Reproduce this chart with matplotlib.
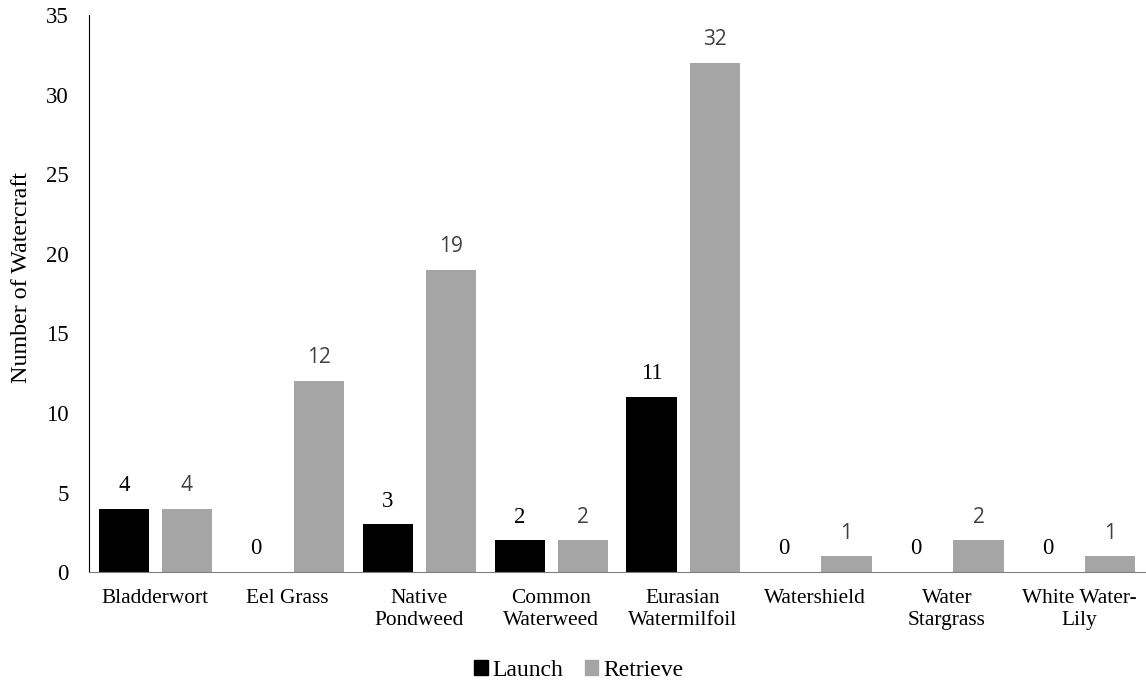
import numpy as np
import matplotlib.pyplot as plt
from matplotlib.patches import Patch

# Dados
categorias = ["Bladderwort", "Eel Grass", "Native\nPondweed", "Common\nWaterweed",
              "Eurasian\nWatermilfoil", "Watershield", "Water\nStargrass", "White Water-\nLily"]
launch = [4, 0, 3, 2, 11, 0, 0, 0]
retrieve = [4, 12, 19, 2, 32, 1, 2, 1]

SERIF = "Liberation Serif"
SANS = "Open Sans"

fig = plt.figure(figsize=(11.46, 6.82), dpi=100)
ax = fig.add_axes([0.078, 0.161, 0.921, 0.817])

x = np.arange(len(categorias))
largura = 0.38
desloc = 0.239

ax.bar(x - desloc, launch, width=largura, color="black")
ax.bar(x + desloc, retrieve, width=largura, color="#a5a5a5")

# rótulos de dados
for xi, v in zip(x, launch):
    ax.text(xi - desloc, v + 0.8, str(v), ha="center", va="bottom",
            fontsize=16.5, family=SERIF, color="black")
for xi, v in zip(x, retrieve):
    ax.text(xi + desloc, v + 0.8, str(v), ha="center", va="bottom",
            fontsize=15, family=SANS, color="#404040")

ax.set_xlim(-0.5, len(categorias) - 0.5)
ax.set_ylim(0, 35)
ax.set_yticks(range(0, 36, 5))
ax.set_xticks(x)
ax.set_xticklabels(categorias, family=SERIF, fontsize=15.4, linespacing=1.2)
for lbl in ax.get_yticklabels():
    lbl.set_family(SERIF)
    lbl.set_fontsize(16.5)
ax.tick_params(axis="x", length=0, pad=12)
ax.tick_params(axis="y", length=0, pad=15)

ax.spines["top"].set_visible(False)
ax.spines["right"].set_visible(False)
ax.spines["left"].set_color("black")
ax.spines["bottom"].set_color("#7f7f7f")

ax.set_ylabel("Number of Watercraft", family=SERIF, fontsize=17.3)
ax.yaxis.set_label_coords(-0.0545, 0.528)

legenda = [Patch(color="black", label="Launch"), Patch(color="#a5a5a5", label="Retrieve")]
fig.legend(handles=legenda, loc="center", bbox_to_anchor=(0.505, 0.017), ncol=2, frameon=False,
           prop={"family": SERIF, "size": 17}, handlelength=0.58, handleheight=0.58,
           handletextpad=0.2, columnspacing=0.9, borderpad=0, borderaxespad=0)

fig.savefig("out.png", dpi=100)
